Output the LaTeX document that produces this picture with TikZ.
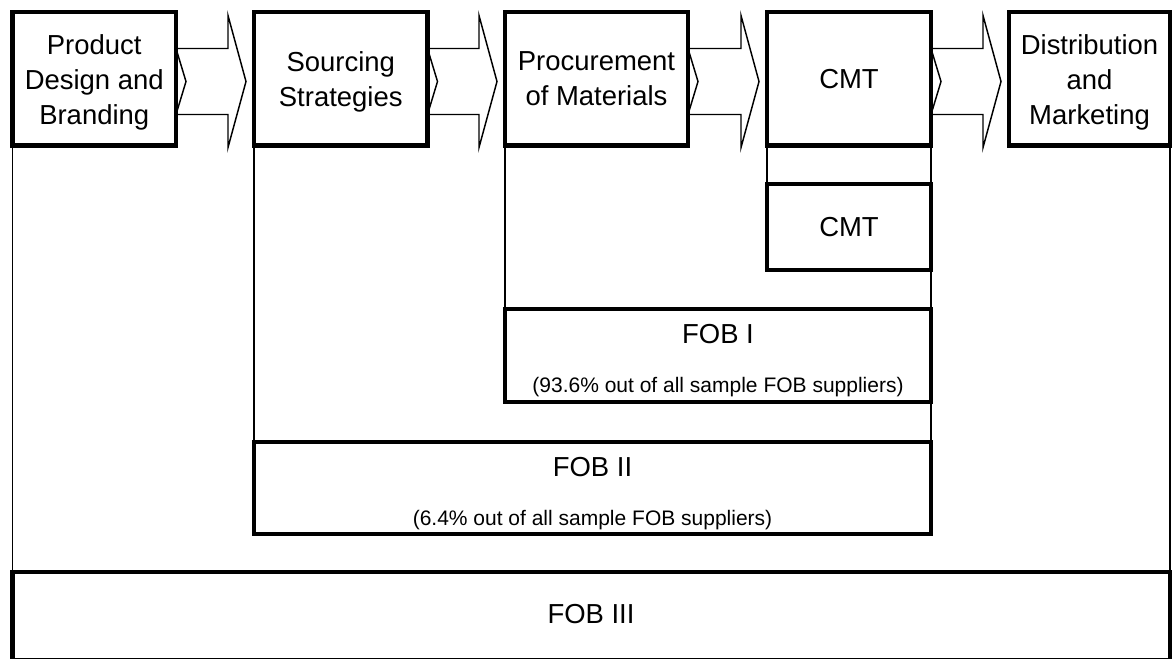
\documentclass[tikz,border=0pt]{standalone}
\usepackage{fontspec}
\setmainfont{Liberation Sans}
\usetikzlibrary{fit}
\begin{document}
\begin{tikzpicture}[x=0.75pt, y=-0.75pt,
  stage/.style={draw, line width=3.4pt, inner sep=0pt, outer sep=0pt},
  stagetext/.style={inner sep=0pt, align=center,
    font=\fontsize{20.6}{26.25}\selectfont},
  link/.style={line width=1pt},
  blockarrow/.style={line width=1.1pt, line join=miter},
  bigtext/.style={anchor=base, inner sep=0pt, font=\fontsize{20.6}{24}\selectfont},
  smalltext/.style={anchor=base, inner sep=0pt, font=\fontsize{15.75}{18}\selectfont}]
\useasboundingbox (0,0) rectangle (1173,658);

% value-chain stages
\node[stage, fit={(12.5,12)(176,145.5)}] (design) {};
\node[stage, fit={(254,12)(427.5,145.5)}] (sourcing) {};
\node[stage, fit={(505,12)(688,145.5)}] (procure) {};
\node[stage, fit={(767,12)(931,145.5)}] (cmt) {};
\node[stage, fit={(1009,12)(1170,145.5)}] (distrib) {};

\node[stagetext] (designlabel) at ([yshift=-2.5pt]design.center) {Product\\Design and\\Branding};
\node[stagetext] (sourcinglabel) at ([yshift=-2.5pt]sourcing.center) {Sourcing\\Strategies};
\node[stagetext] (procurelabel) at (procure.center) {Procurement\\of Materials};
\node[stagetext] (cmtlabel) at (cmt.center) {CMT};
\node[stagetext] (distriblabel) at ([yshift=-2.5pt]distrib.center) {Distribution\\and\\Marketing};

% supplier types
\node[stage, fit={(767,184)(931,270)}] (cmt2) {};
\node[stage, fit={(505,309)(931,402)}] (fob1) {};
\node[stage, fit={(254,442)(931,534)}] (fob2) {};
\node[stage, fit={(12.5,572)(1170,660)}] (fob3) {};

\node[stagetext] (cmt2label) at (cmt2.center) {CMT};
\node[bigtext] (fob1name) at (718,343) {FOB I};
\node[smalltext] (fob1share) at (718,392) {(93.6\% out of all sample FOB suppliers)};
\node[bigtext] (fob2name) at (592.5,476) {FOB II};
\node[smalltext] (fob2share) at (592.5,525) {(6.4\% out of all sample FOB suppliers)};
\node[bigtext] (fob3name) at (591,623) {FOB III};

% coverage lines from stages down to supplier types
\draw[link] (design.south west) -- (fob3.north west);
\draw[link] (distrib.south east) -- (fob3.north east);
\draw[link] (sourcing.south west) -- (fob2.north west);
\draw[link] (procure.south west) -- (fob1.north west);
\draw[link] (cmt.south west) -- (cmt2.north west);
\draw[link] (cmt.south east) -- (fob2.north east);

% notched block arrows between stages
\foreach \a/\b in {176/254, 427.5/505, 688/767, 931/1009} {
  \draw[blockarrow] (\a,48.5) -- ({\b-26},48.5) -- ({\b-26},15.5)
    -- ({\b-8},81.5) -- ({\b-26},147.5) -- ({\b-26},114.5)
    -- (\a,114.5) -- ({\a+10},81.5) -- cycle;
}
\end{tikzpicture}
\end{document}
